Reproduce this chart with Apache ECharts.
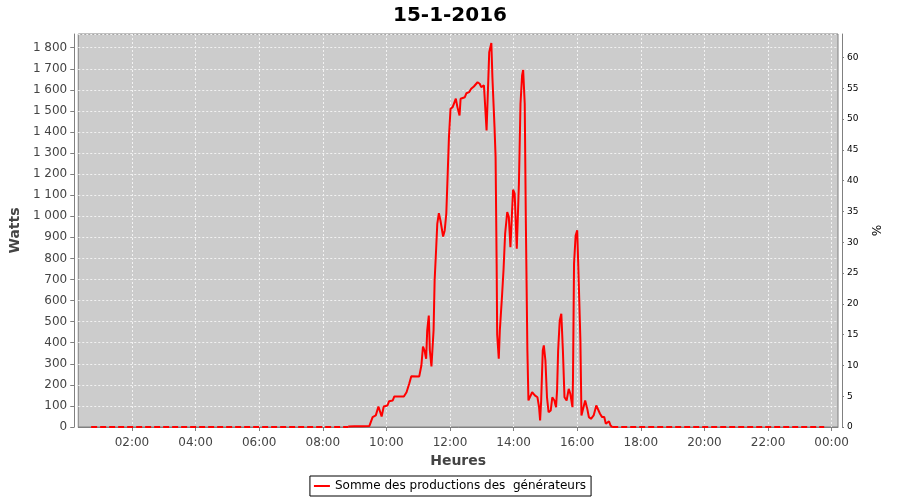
<!DOCTYPE html>
<html>
<head>
<meta charset="utf-8">
<script src="https://cdn.jsdelivr.net/npm/echarts@6/dist/echarts.min.js"></script>
<style>html,body{margin:0;padding:0;background:#fff}#c{width:900px;height:500px}</style>
</head>
<body>
<div id="c"></div>
<script>
const seriesName = 'Somme des productions des  générateurs';
const dayTimes = ['08:48','09:00','09:15','09:28','09:31','09:34','09:40','09:45','09:51','09:55','10:02','10:05','10:12','10:15','10:33','10:38','10:43','10:47','11:02','11:06','11:09','11:12','11:15','11:17','11:20','11:22','11:25','11:29','11:31','11:34','11:36','11:39','11:42','11:47','11:50','11:53','11:55','11:58','12:01','12:05','12:08','12:11','12:14','12:18','12:20','12:23','12:28','12:31','12:36','12:40','12:45','12:52','12:56','12:59','13:04','13:05','13:09','13:12','13:14','13:18','13:20','13:24','13:26','13:28','13:29','13:32','13:34','13:38','13:41','13:44','13:48','13:51','13:54','13:57','13:59','14:02','14:06','14:10','14:13','14:16','14:18','14:21','14:23','14:26','14:28','14:31','14:35','14:40','14:45','14:48','14:50','14:52','14:55','14:57','15:00','15:03','15:06','15:10','15:13','15:17','15:20','15:22','15:24','15:27','15:30','15:33','15:36','15:40','15:44','15:47','15:51','15:52','15:54','15:57','16:00','16:03','16:06','16:08','16:11','16:15','16:19','16:22','16:26','16:31','16:36','16:39','16:43','16:47','16:51','16:54','16:57','17:00','17:03','17:06'];
const dayWatts = [2,4,4,5,7,47,55,97,50,97,102,122,126,145,145,165,205,241,240,292,382,363,324,458,529,363,287,458,695,853,964,1015,980,904,933,1012,1154,1375,1510,1518,1526,1558,1518,1478,1558,1565,1565,1584,1589,1605,1616,1636,1629,1613,1621,1580,1407,1410,1779,1822,1660,1423,1281,775,439,324,458,616,746,917,1020,996,853,861,1126,1107,846,1154,1534,1668,1695,1534,996,363,126,134,165,150,141,94,31,126,363,387,316,141,70,78,141,126,94,173,363,505,537,363,141,126,181,158,94,221,775,909,933,680,411,55,47,126,86,47,39,55,102,97,63,47,47,15,7,27,7,0];
const nightTimes = ['00:43','08:48','12:00','17:06','23:46'];
const nightWatts = [0,0,null,0,0];
const hourTicks = ['02:00','04:00','06:00','08:00','10:00','12:00','14:00','16:00','18:00','20:00','22:00','00:00'];
const xRange = {min:'00:18:40', max:'24:12'};
const leftTicks = {min:0, max:1865, interval:100};
const rightTicks = {min:0, max:63.8, interval:5};

function hrs(hm){const p=hm.split(':');return (+p[0]) + (+p[1])/60 + (p[2]?(+p[2])/3600:0);}
function pad(n){return (n<10?'0':'')+n;}
const dayData = dayTimes.map((t,i)=>[hrs(t), dayWatts[i]]);
const nightData = nightTimes.map((t,i)=>[hrs(t), nightWatts[i]===null?'-':nightWatts[i]]);
const tickValues = hourTicks.map((t,i)=>{const h=hrs(t);return (i>0 && h===0)?24:h;});

const font = 'DejaVu Sans';
const chart = echarts.init(document.getElementById('c'), null, {renderer:'canvas'});
chart.setOption({
  animation: false,
  backgroundColor: '#ffffff',
  title: {text:'15-1-2016', left:'center', top:1, textStyle:{fontFamily:font, fontWeight:'bold', fontSize:20, color:'#000'}},
  grid: {left:77, right:62, top:34, bottom:73, show:true, backgroundColor:'#cccccc', borderColor:'#808080', borderWidth:1},
  legend: {
    data:[seriesName], top:476, left:'center', orient:'horizontal',
    borderColor:'#000', borderWidth:1, borderRadius:0, padding:[4,5,4,4],
    itemWidth:16, itemHeight:2, icon:'rect',
    itemStyle:{color:'#ff0000'},
    textStyle:{fontFamily:font, fontSize:12, color:'#000'}
  },
  xAxis: {
    type:'value', min: hrs(xRange.min), max: hrs(xRange.max), offset:4,
    axisLine:{show:true, lineStyle:{color:'#808080', width:1}},
    axisTick:{show:true, length:4, lineStyle:{color:'#808080'}, customValues: tickValues},
    axisLabel:{fontFamily:font, fontSize:12, color:'#444', margin:6, customValues: tickValues,
      formatter:function(v){const h=Math.round(v)%24;return pad(h)+':00';}},
    splitLine:{show:true, lineStyle:{color:'#f2f2f2', width:1, type:[2,2]}},
    name:'Heures', nameLocation:'middle', nameGap:22,
    nameTextStyle:{fontFamily:font, fontWeight:'bold', fontSize:14, color:'#444'}
  },
  yAxis: [{
    type:'value', min:leftTicks.min, max:leftTicks.max, interval:leftTicks.interval, offset:4,
    axisLine:{show:true, lineStyle:{color:'#808080'}},
    axisTick:{show:true, length:4, lineStyle:{color:'#808080'}},
    axisLabel:{fontFamily:font, fontSize:12, color:'#444', margin:7, showMaxLabel:false,
      formatter:function(v){return String(v).replace(/\B(?=(\d{3})+(?!\d))/g,' ');}},
    splitLine:{show:true, lineStyle:{color:'#f2f2f2', width:1, type:[2,2]}},
    name:'Watts', nameLocation:'middle', nameGap:44, nameRotate:90,
    nameTextStyle:{fontFamily:font, fontWeight:'bold', fontSize:14, color:'#444'}
  },{
    type:'value', position:'right', min:rightTicks.min, max:rightTicks.max, interval:rightTicks.interval, offset:4,
    axisLine:{show:true, lineStyle:{color:'#808080'}},
    axisTick:{show:true, length:2, lineStyle:{color:'#808080'}},
    axisLabel:{fontFamily:font, fontSize:9, color:'#000', margin:5, showMaxLabel:false},
    splitLine:{show:false},
    name:'%', nameLocation:'middle', nameGap:25, nameRotate:-90,
    nameTextStyle:{fontFamily:font, fontSize:12, color:'#000'}
  }],
  series: [{
    name: seriesName, type:'line', yAxisIndex:0, data: dayData,
    showSymbol:false, symbol:'none', lineStyle:{color:'#ff0000', width:2}, itemStyle:{color:'#ff0000'}
  },{
    name: 'night', type:'line', yAxisIndex:0, data: nightData, connectNulls:false,
    showSymbol:false, symbol:'none', lineStyle:{color:'#ff0000', width:2, type:[6,3]}, itemStyle:{color:'#ff0000'}
  }]
});
</script>
</body>
</html>
